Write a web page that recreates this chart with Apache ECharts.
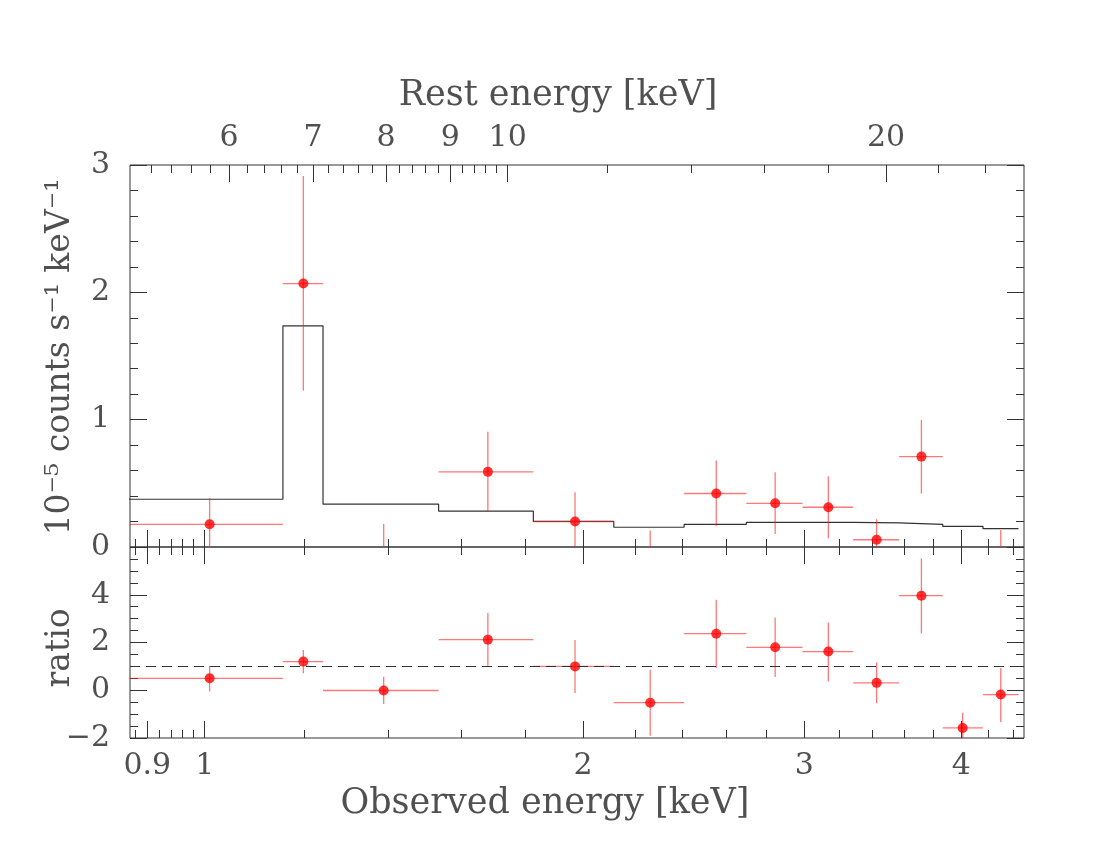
<!DOCTYPE html>
<html>
<head>
<meta charset="utf-8">
<script src="https://cdn.jsdelivr.net/npm/echarts@6/dist/echarts.min.js"></script>
<style>
html,body{margin:0;padding:0;background:#fff;}
#chart{width:1100px;height:850px;}
</style>
</head>
<body>
<div id="chart"></div>
<script>
// ---------------- data ----------------
const obsRange = [0.872, 4.487];          // observed energy axis [keV]
const redshiftFactor = 5.74;              // rest = observed * (1+z)
const binEdges = [0.863, 1.154, 1.242, 1.535, 1.826, 2.116, 2.407, 2.698, 2.990, 3.281, 3.569, 3.866, 4.162, 4.442];
const energy   = [1.009, 1.198, 1.388, 1.680, 1.971, 2.262, 2.553, 2.844, 3.135, 3.425, 3.718, 4.010, 4.300];
const flux     = [0.178, 2.069, -0.010, 0.590, 0.200, -0.080, 0.420, 0.343, 0.312, 0.057, 0.710, -0.256, -0.026];
const fluxLo   = [-0.020, 1.228, -0.190, 0.277, -0.020, -0.300, 0.165, 0.102, 0.068, -0.100, 0.420, -0.400, -0.190];
const fluxHi   = [0.383, 2.914, 0.180, 0.906, 0.430, 0.130, 0.680, 0.587, 0.555, 0.218, 0.998, -0.150, 0.134];
const model    = [0.375, 1.737, 0.336, 0.281, 0.201, 0.155, 0.178, 0.194, 0.194, 0.189, 0.178, 0.162, 0.144];
const ratio    = [0.50, 1.20, -0.01, 2.12, 1.00, -0.52, 2.37, 1.80, 1.62, 0.31, 3.96, -1.58, -0.18];
const ratioLo  = [-0.05, 0.71, -0.58, 1.00, -0.11, -1.91, 0.93, 0.56, 0.37, -0.54, 2.38, -2.30, -1.33];
const ratioHi  = [1.02, 1.69, 0.57, 3.24, 2.10, 0.86, 3.79, 3.05, 2.84, 1.16, 5.52, -0.94, 0.93];
const ratioRef = 1;

const obsMajorTicks = [0.9, 1, 2, 3, 4];
const obsMinorTicks = [0.88, 0.92, 0.94, 0.96, 0.98, 1.2, 1.4, 1.6, 1.8, 2.2, 2.4, 2.6, 2.8, 3.2, 3.4, 3.6, 3.8, 4.2, 4.4];
const restMajorTicks = [6, 7, 8, 9, 10, 20];
const restMinorTicks = [5.2, 5.4, 5.6, 5.8, 6.2, 6.4, 6.6, 6.8, 7.2, 7.4, 7.6, 7.8, 8.2, 8.4, 8.6, 8.8, 9.2, 9.4, 9.6, 9.8, 12, 14, 16, 18, 22, 24];
const fluxTickLabels = [0, 1, 2, 3];
const ratioTickLabels = [-2, 0, 2, 4];

const titleTop = 'Rest energy [keV]';
const titleBottom = 'Observed energy [keV]';
const titleFlux = '10\u207B\u2075 counts s\u207B\u00B9 keV\u207B\u00B9';
const titleRatio = 'ratio';

// ---------------- style ----------------
const FONT = 'DejaVu Serif';
const TXT = '#505050';
const AX = '#333';
const ERR = 'rgba(255,30,30,0.6)';
const restRange = [obsRange[0] * redshiftFactor, obsRange[1] * redshiftFactor];

function tickAxis(opt) {
  return Object.assign({
    type: 'log', logBase: 10,
    axisLine: {show: false, onZero: false},
    splitLine: {show: false},
    axisLabel: {show: false},
    axisTick: {show: true, inside: true, length: 8, lineStyle: {color: AX, width: 1}}
  }, opt);
}
function fmtNum(v) {
  const s = String(v);
  return v < 0 ? '\u2212' + s.slice(1) : s;
}
const labelStyle = {fontFamily: FONT, fontSize: 30, color: TXT};

const xAxes = [
  // grid 0 (spectrum)
  tickAxis({gridIndex: 0, position: 'bottom', min: obsRange[0], max: obsRange[1],
    axisTick: {show: true, inside: true, length: 17, customValues: obsMajorTicks, lineStyle: {color: AX}}}),
  tickAxis({gridIndex: 0, position: 'bottom', min: obsRange[0], max: obsRange[1],
    axisTick: {show: true, inside: true, length: 8, customValues: obsMinorTicks, lineStyle: {color: AX}}}),
  tickAxis({gridIndex: 0, position: 'top', min: restRange[0], max: restRange[1],
    axisTick: {show: true, inside: true, length: 17, customValues: restMajorTicks, lineStyle: {color: AX}},
    axisLabel: Object.assign({show: true, margin: 12, customValues: restMajorTicks, formatter: v => fmtNum(v)}, labelStyle)}),
  tickAxis({gridIndex: 0, position: 'top', min: restRange[0], max: restRange[1],
    axisTick: {show: true, inside: true, length: 8, customValues: restMinorTicks, lineStyle: {color: AX}}}),
  // grid 1 (ratio)
  tickAxis({gridIndex: 1, position: 'bottom', min: obsRange[0], max: obsRange[1],
    axisTick: {show: true, inside: true, length: 17, customValues: obsMajorTicks, lineStyle: {color: AX}},
    axisLabel: Object.assign({show: true, margin: 13, customValues: obsMajorTicks, formatter: v => fmtNum(v)}, labelStyle)}),
  tickAxis({gridIndex: 1, position: 'bottom', min: obsRange[0], max: obsRange[1],
    axisTick: {show: true, inside: true, length: 8, customValues: obsMinorTicks, lineStyle: {color: AX}}}),
  tickAxis({gridIndex: 1, position: 'top', min: obsRange[0], max: obsRange[1],
    axisTick: {show: true, inside: true, length: 17, customValues: obsMajorTicks, lineStyle: {color: AX}}}),
  tickAxis({gridIndex: 1, position: 'top', min: obsRange[0], max: obsRange[1],
    axisTick: {show: true, inside: true, length: 8, customValues: obsMinorTicks, lineStyle: {color: AX}}})
];

function valAxis(opt, labels) {
  return Object.assign({
    type: 'value',
    axisLine: {show: false, onZero: false},
    splitLine: {show: false},
    minorSplitLine: {show: false},
    axisTick: {show: true, inside: true, length: 17, lineStyle: {color: AX}},
    axisLabel: labels ? Object.assign({show: true, margin: 20, customValues: labels, formatter: v => fmtNum(v)}, labelStyle) : {show: false}
  }, opt);
}
const yAxes = [
  valAxis({gridIndex: 0, position: 'left', min: 0, max: 3, interval: 1,
    minorTick: {show: true, splitNumber: 5, length: 8, lineStyle: {color: AX}}}, fluxTickLabels),
  valAxis({gridIndex: 0, position: 'right', min: 0, max: 3, interval: 1,
    minorTick: {show: true, splitNumber: 5, length: 8, lineStyle: {color: AX}}}, null),
  valAxis({gridIndex: 1, position: 'left', min: -2, max: 6, interval: 2,
    minorTick: {show: true, splitNumber: 4, length: 8, lineStyle: {color: AX}}}, ratioTickLabels),
  valAxis({gridIndex: 1, position: 'right', min: -2, max: 6, interval: 2,
    minorTick: {show: true, splitNumber: 4, length: 8, lineStyle: {color: AX}}}, null)
];

function errRender(params, api) {
  const x = api.value(0), xl = api.value(1), xh = api.value(2);
  const y = api.value(3), yl = api.value(4), yh = api.value(5);
  const a = api.coord([xl, y]), b = api.coord([xh, y]);
  const c = api.coord([x, yl]), d = api.coord([x, yh]);
  const st = {stroke: ERR, lineWidth: 1.3};
  return {type: 'group', children: [
    {type: 'line', shape: {x1: a[0], y1: a[1], x2: b[0], y2: b[1]}, style: st},
    {type: 'line', shape: {x1: c[0], y1: c[1], x2: d[0], y2: d[1]}, style: st}
  ]};
}

const errFlux = energy.map((e, i) => [e, binEdges[i], binEdges[i + 1], flux[i], fluxLo[i], fluxHi[i]]);
const errRatio = energy.map((e, i) => [e, binEdges[i], binEdges[i + 1], ratio[i], ratioLo[i], ratioHi[i]]);
const modelStep = binEdges.map((e, i) => [e, model[Math.min(i, model.length - 1)]]);

const option = {
  animation: false,
  backgroundColor: '#fff',
  grid: [
    {left: 130, top: 165, width: 894, height: 382, show: true, borderColor: AX, borderWidth: 1, backgroundColor: 'transparent'},
    {left: 130, top: 547, width: 894, height: 191, show: true, borderColor: AX, borderWidth: 1, backgroundColor: 'transparent'}
  ],
  xAxis: xAxes,
  yAxis: yAxes,
  graphic: [
    {type: 'text', x: 558, y: 96, style: {text: titleTop, font: '35px "DejaVu Serif"', fill: TXT, align: 'center', verticalAlign: 'middle'}},
    {type: 'text', x: 545, y: 804, style: {text: titleBottom, font: '35px "DejaVu Serif"', fill: TXT, align: 'center', verticalAlign: 'middle'}},
    {type: 'text', x: 60, y: 357, rotation: Math.PI / 2, style: {text: titleFlux, font: '33px "DejaVu Serif"', fill: TXT, align: 'center', verticalAlign: 'middle'}},
    {type: 'text', x: 60, y: 648, rotation: Math.PI / 2, style: {text: titleRatio, font: '33px "DejaVu Serif"', fill: TXT, align: 'center', verticalAlign: 'middle'}}
  ],
  series: [
    {type: 'line', xAxisIndex: 0, yAxisIndex: 0, data: modelStep, step: 'end', symbol: 'none', clip: true,
      lineStyle: {color: '#333', width: 1.2}, z: 2},
    {type: 'custom', xAxisIndex: 0, yAxisIndex: 0, data: errFlux, renderItem: errRender, clip: true,
      encode: {x: [0, 1, 2], y: [3, 4, 5]}, z: 3},
    {type: 'scatter', xAxisIndex: 0, yAxisIndex: 0, data: energy.map((e, i) => [e, flux[i]]), symbolSize: 10, clip: true,
      itemStyle: {color: '#ff0000'}, z: 4},
    {type: 'custom', xAxisIndex: 4, yAxisIndex: 2, data: errRatio, renderItem: errRender, clip: true,
      encode: {x: [0, 1, 2], y: [3, 4, 5]}, z: 3,
      markLine: {silent: true, symbol: 'none', label: {show: false},
        lineStyle: {color: '#333', width: 1, type: [10, 6]}, data: [{yAxis: ratioRef}]}},
    {type: 'scatter', xAxisIndex: 4, yAxisIndex: 2, data: energy.map((e, i) => [e, ratio[i]]), symbolSize: 10, clip: true,
      itemStyle: {color: '#ff0000'}, z: 4}
  ]
};

const chart = echarts.init(document.getElementById('chart'), null, {renderer: 'canvas'});
chart.setOption(option);
</script>
</body>
</html>
